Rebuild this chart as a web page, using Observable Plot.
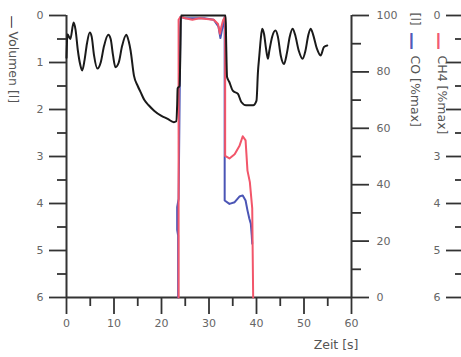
<!DOCTYPE html>
<html><head><meta charset="utf-8">
<script src="https://cdn.jsdelivr.net/npm/d3@7"></script>
<script src="https://cdn.jsdelivr.net/npm/@observablehq/plot@0.6"></script>
<style>body{margin:0;background:#fff} svg{display:block}</style>
</head><body><div id="chart"></div>
<script>
// Volumen [l] (left axis, inverted)
const volTime = [0,0.2,0.8,1.5,1.9,2.4,2.9,3.3,3.8,4.3,4.9,5.3,5.8,6.5,7.2,7.9,8.8,9.3,9.8,10.3,11.0,11.7,12.6,13.1,13.5,14.2,15.0,15.6,16.4,17.3,18.5,19.9,21.3,22.6,23.1,23.3,23.4,23.8,24.0,24.1,33.5,33.6,33.8,34.3,35.0,36.1,36.8,37.8,39.3,40.0,40.3,40.6,40.9,41.2,41.6,42.0,42.4,42.7,43.3,44.0,44.5,45.1,45.8,46.4,47.0,47.6,48.1,48.9,49.7,50.3,50.9,51.4,51.9,52.7,53.5,54.2,54.9];
const volValue = [0.9,0.4,0.5,0.15,0.3,0.75,1.05,1.17,0.95,0.6,0.36,0.45,0.85,1.13,1.0,0.65,0.41,0.5,0.85,1.1,1.0,0.65,0.41,0.55,0.75,1.28,1.5,1.63,1.8,1.91,2.03,2.13,2.2,2.27,2.25,1.9,1.55,1.5,0.6,0,0,0.5,1.31,1.42,1.6,1.67,1.84,1.91,1.91,1.81,1.21,0.85,0.5,0.28,0.4,0.7,0.92,0.75,0.45,0.32,0.45,0.85,1.03,0.8,0.45,0.28,0.4,0.75,0.92,0.75,0.42,0.28,0.4,0.7,0.85,0.67,0.64];
// CH4 [%max]
const ch4Time = [23.6,23.6,24.0,25.0,26.5,28.0,29.5,31.0,31.9,32.3,32.6,33.0,33.4,33.4,34.3,35.4,36.4,37.1,37.7,38.1,38.6,39.1,39.3];
const ch4Pct = [0,98.5,99.5,99,98.5,99,98.8,98.5,97,93.5,96,98.5,99.5,50.2,49.3,50.8,53.7,57.2,55.7,45.0,40.9,31.6,0];
// CO [%max]
const coTime = [23.5,23.5,23.3,23.3,23.6,24.0,25,27,29,31,32.0,32.4,32.8,33.3,33.3,34.3,35.4,36.4,37.1,37.7,38.1,38.5,38.8,39.0,39.1];
const coPct = [0,22,24,32,35,99.5,99,99,99,98.5,96,92,95.5,99.5,34.4,33.2,33.8,35.8,36.2,34.4,30.9,27.9,26.2,22,19.1];
// ticks
const volTicks = [0,1,2,3,4,5,6];
const volMinor = [0.5,1.5,2.5,3.5,4.5,5.5];
const pctTicks = [0,20,40,60,80,100];
const pctMinor = [10,30,50,70,90];
const timeTicks = [0,10,20,30,40,50,60];
const timeMinor = [5,15,25,35,45,55];
const farLabels = ["0","","","3","4","5","6"];

const toY = p => 6 - p * 6 / 100;
const vol = volTime.map((t, i) => ({t, v: volValue[i]}));
const ch4 = ch4Time.map((t, i) => ({t, v: toY(ch4Pct[i])}));
const co = coTime.map((t, i) => ({t, v: toY(coPct[i])}));

const ax = {stroke: "#333", fill: "#666", strokeWidth: 1.8, fontSize: 11, label: null};
const lbl = {fill: "#555", fontSize: 12.5, rotate: 90, textAnchor: "start"};

const chart = Plot.plot({
  width: 461, height: 357,
  marginLeft: 66, marginRight: 110, marginTop: 15, marginBottom: 60,
  style: {fontFamily: "DejaVu Sans", fontSize: "11px", background: "#fff"},
  x: {domain: [0, 60]},
  y: {domain: [0, 6], reverse: true},
  marks: [
    Plot.axisY(volTicks, {...ax, anchor: "left", tickSize: 17, tickPadding: 6}),
    Plot.axisY(volMinor, {...ax, anchor: "left", tickSize: 9, tickFormat: () => ""}),
    Plot.axisY(pctTicks.map(toY), {...ax, anchor: "right", tickSize: 17, tickPadding: 8,
      tickFormat: d => String(Math.round((6 - d) * 100 / 6))}),
    Plot.axisY(pctMinor.map(toY), {...ax, anchor: "right", tickSize: 9, tickFormat: () => ""}),
    Plot.axisX(timeTicks, {...ax, anchor: "bottom", tickSize: 17, tickPadding: 5}),
    Plot.axisX(timeMinor, {...ax, anchor: "bottom", tickSize: 9, tickFormat: () => ""}),
    Plot.axisY(volTicks, {...ax, anchor: "left", dx: 397, tickSize: 17, tickPadding: 6,
      tickFormat: d => farLabels[volTicks.indexOf(d)]}),
    Plot.axisY(volMinor, {...ax, anchor: "left", dx: 397, tickSize: 8, tickFormat: () => ""}),
    Plot.ruleX([0], {stroke: "#333", strokeWidth: 2}),
    Plot.ruleX([60], {stroke: "#333", strokeWidth: 2}),
    Plot.ruleY([6], {stroke: "#333", strokeWidth: 2}),
    Plot.line(co, {x: "t", y: "v", stroke: "#4b55b5", strokeWidth: 2}),
    Plot.line(ch4, {x: "t", y: "v", stroke: "#f2566a", strokeWidth: 2}),
    Plot.line(vol, {x: "t", y: "v", stroke: "#1a1a1a", strokeWidth: 2, curve: "monotone-x"}),
    Plot.text(["—"], {text: d => d, frameAnchor: "top-left", dx: -49, dy: 0, rotate: 90, textAnchor: "start", fill: "#111", fontSize: 13}),
    Plot.text(["Volumen [l]"], {...lbl, text: d => d, frameAnchor: "top-left", dx: -49, dy: 16}),
    Plot.text(["[l]"], {...lbl, text: d => d, frameAnchor: "top-right", dx: 68, dy: -3}),
    Plot.text(["—"], {text: d => d, frameAnchor: "top-right", dx: 68, dy: 17, rotate: 90, textAnchor: "start", fill: "#4b55b5", stroke: "#4b55b5", strokeWidth: 0.8, fontSize: 17}),
    Plot.text(["CO [%max]"], {...lbl, text: d => d, frameAnchor: "top-right", dx: 68, dy: 40}),
    Plot.text(["—"], {text: d => d, frameAnchor: "top-right", dx: 95, dy: 17, rotate: 90, textAnchor: "start", fill: "#f2566a", stroke: "#f2566a", strokeWidth: 0.8, fontSize: 17}),
    Plot.text(["CH4 [%max]"], {...lbl, text: d => d, frameAnchor: "top-right", dx: 95, dy: 40}),
    Plot.text(["Zeit [s]"], {text: d => d, frameAnchor: "bottom-right", dx: 7, dy: 51, textAnchor: "end", fill: "#555", fontSize: 12.5})
  ]
});
document.getElementById("chart").appendChild(chart);
</script>
</body></html>
